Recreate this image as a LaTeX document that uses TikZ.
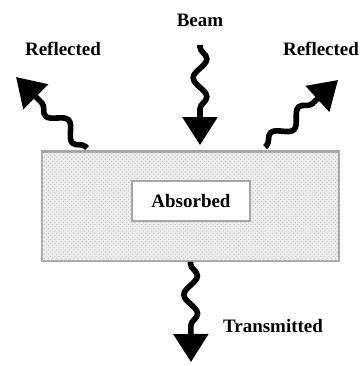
\documentclass[tikz,border=0pt]{standalone}
\usepackage{fontspec}
\setmainfont{Liberation Serif}
\usepackage{tikz}
\usetikzlibrary{arrows.meta}
\usetikzlibrary{decorations.pathmorphing,patterns}
\tikzset{>={Triangle[length=0.7cm,width=0.85cm]}}
\colorlet{myslabgray}{gray!14}
\colorlet{myedgegray}{gray!70}
\tikzset{
  wave/.style={->,line width=0.14cm,decorate,
    decoration={snake,amplitude=0.17cm,segment length=0.95cm,pre length=0.05cm,post length=0.7cm}},
  lbl/.style={font=\fontsize{13.5}{16}\selectfont\bfseries,inner sep=1pt},
}

\begin{document}
\begin{tikzpicture}[x=0.025cm,y=-0.025cm]
        \useasboundingbox (0,0) rectangle (362,366);

        % SLAB
        \node[draw=myedgegray,line width=1.2pt,fill=myslabgray,
              minimum width=7.425cm,minimum height=2.725cm,inner sep=0] (slab) at (190.5,206.5) {};
        \fill[pattern=crosshatch dots,pattern color=gray!45] (slab.south west) rectangle (slab.north east);
        \draw[myedgegray,line width=1.8pt] (slab.north west) -- (slab.north east);
        \node[draw=myedgegray,line width=1pt,fill=white,lbl,
              minimum width=2.95cm,minimum height=1cm] (absorbed) at (191,201) {Absorbed};

        % COORDINATES
        \coordinate (beamtail) at (200,45);
        \coordinate (lefttail) at (87,148);
        \coordinate (lefttip) at (16,77);
        \coordinate (righttail) at (265,147);
        \coordinate (righttip) at (338,80);
        \coordinate (transtip) at (191,362);

        % LABELS
        \node[lbl] (beam) at (200,20) {Beam};
        \node[lbl] (reflleft) at (63,49) {Reflected};
        \node[lbl] (reflright) at (321,49) {Reflected};
        \node[lbl] (trans) at (273,326) {Transmitted};

        % WAVES
        \draw[wave,shorten >=0.15cm] (beamtail) -- (beamtail |- slab.north);
        \draw[wave] (lefttail) -- (lefttip);
        \draw[wave] (righttail) -- (righttip);
        \draw[wave] (slab.south) -- (transtip);

    \end{tikzpicture}
\end{document}
